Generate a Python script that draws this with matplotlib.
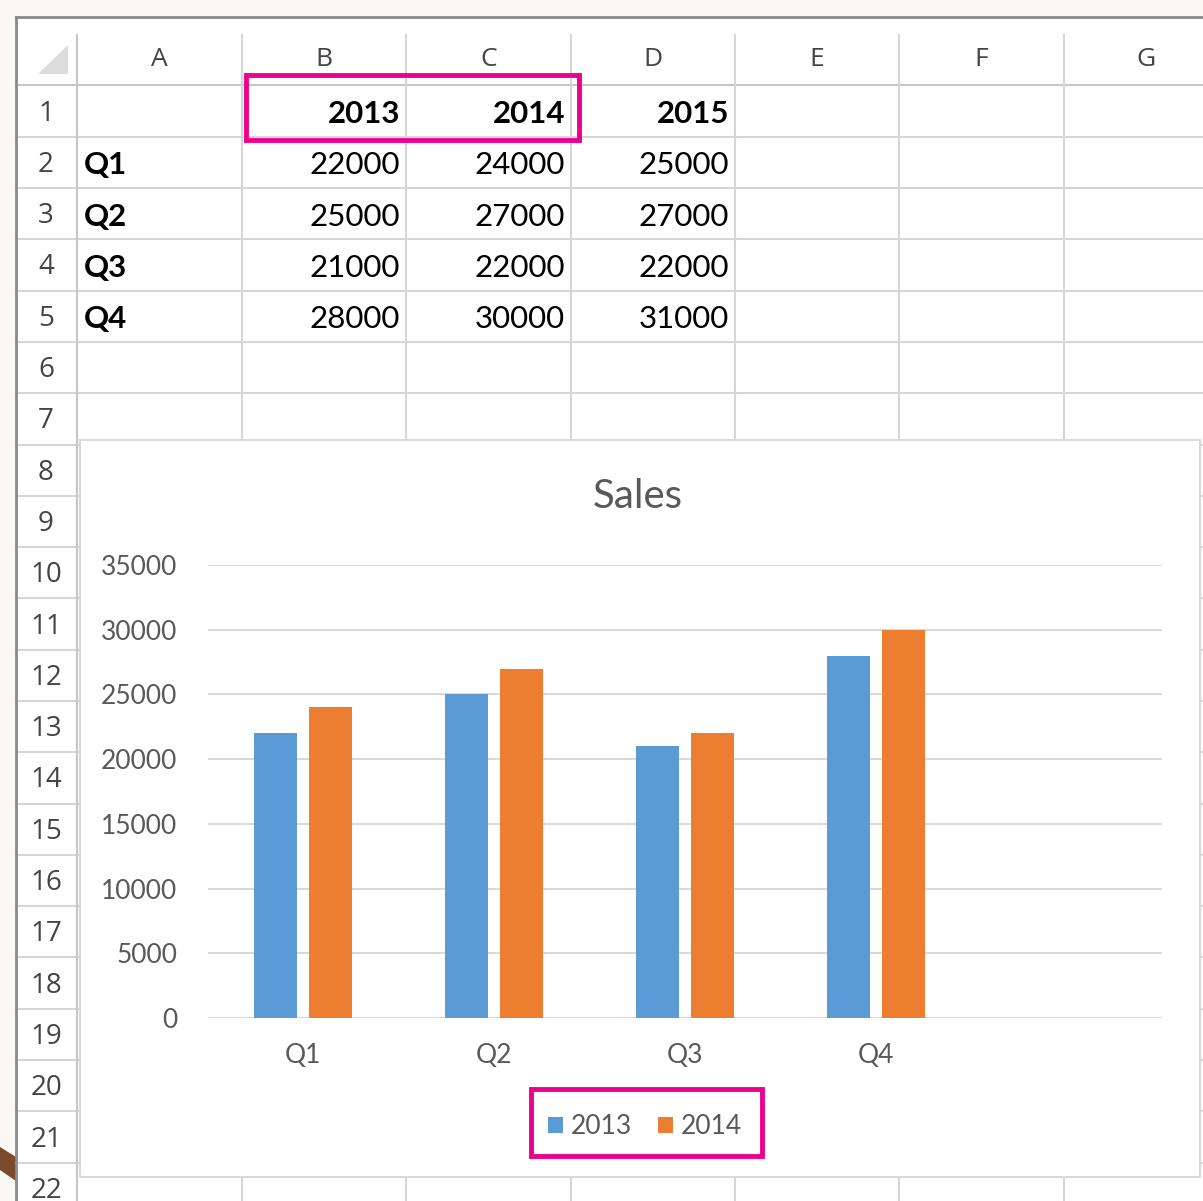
import matplotlib.pyplot as plt
from matplotlib.patches import Rectangle, Polygon

# Sheet data
quarters = ['Q1', 'Q2', 'Q3', 'Q4']
years = ['2013', '2014', '2015']
sales_2013 = [22000, 25000, 21000, 28000]
sales_2014 = [24000, 27000, 22000, 30000]
sales_2015 = [25000, 27000, 22000, 31000]
col_letters = ['A', 'B', 'C', 'D', 'E', 'F', 'G']
n_rows = 22

# Chart data (only 2013 and 2014 are plotted)
chart_series = {'2013': sales_2013, '2014': sales_2014}
chart_colors = {'2013': '#5B9BD5', '2014': '#ED7D31'}
y_ticks = [0, 5000, 10000, 15000, 20000, 25000, 30000, 35000]

W, H = 1203, 1201
fig = plt.figure(figsize=(W / 100, H / 100), dpi=100)
fig.patch.set_facecolor('#FBF9F3')

# background "spreadsheet" drawn in pixel space
bg = fig.add_axes([0, 0, 1, 1])
bg.set_xlim(0, W)
bg.set_ylim(H, 0)
bg.axis('off')

sheet_left, sheet_top = 16, 17
hdr_bottom = 85.4
row_h = 51.3
col_edges = [77, 242, 406, 571, 735, 899, 1064, 1228]
grid_c = '#D6D6D6'

bg.add_patch(Rectangle((sheet_left, sheet_top), W - sheet_left, H - sheet_top,
                       facecolor='white', edgecolor='none', zorder=0))
# outer border
bg.plot([sheet_left, W], [sheet_top, sheet_top], color='#8A8A8A', lw=2, zorder=5)
bg.plot([sheet_left, sheet_left], [sheet_top, H], color='#8A8A8A', lw=2, zorder=5)

# brown shape behind bottom-left
bg.add_patch(Polygon([(0, 1147), (16, 1157), (16, 1181), (0, 1170)],
                     facecolor='#7B4A2D', edgecolor='none', zorder=1))

# row lines
row_lines = [hdr_bottom + k * row_h for k in range(n_rows + 1)]
for k, y in enumerate(row_lines):
    c = '#C6C6C6' if k == 0 else grid_c
    bg.plot([sheet_left, W], [y, y], color=c, lw=1.5, zorder=1)
# column lines
for k, x in enumerate(col_edges):
    c = '#C6C6C6' if k == 0 else grid_c
    bg.plot([x, x], [35, H], color=c, lw=1.5, zorder=1)

# corner triangle
bg.add_patch(Polygon([(38, 74), (68, 74), (68, 45)], facecolor='#DCDCDC',
                     edgecolor='none', zorder=2))

hdr_font = 'Open Sans'
cell_font = 'Lato'
# column letters
for i, letter in enumerate(col_letters):
    xc = (col_edges[i] + col_edges[i + 1]) / 2
    bg.text(xc, 60, letter, ha='center', va='center', fontsize=19,
            family=hdr_font, color='#444444', zorder=3)
# row numbers
for r in range(1, n_rows + 1):
    yc = hdr_bottom + (r - 0.5) * row_h + 2.5
    bg.text(46, yc, str(r), ha='center', va='center', fontsize=20,
            family=hdr_font, color='#444444', zorder=3)

def row_center(r):
    return hdr_bottom + (r - 0.5) * row_h + 3

# header row with years
for j, yr in enumerate(years):
    bg.text(col_edges[j + 2] - 6, row_center(1), yr, ha='right', va='center',
            fontsize=22.5, family=cell_font, weight='bold', color='black', zorder=3)
# quarter rows
for i, q in enumerate(quarters):
    yc = row_center(i + 2)
    bg.text(84, yc, q, ha='left', va='center', fontsize=22.5, family=cell_font,
            weight='bold', color='black', zorder=3)
    for j, vals in enumerate([sales_2013, sales_2014, sales_2015]):
        bg.text(col_edges[j + 2] - 6, yc, str(vals[i]), ha='right', va='center',
                fontsize=22.5, family=cell_font, color='black', zorder=3)

# chart area
bg.add_patch(Rectangle((80, 440), 1120, 737, facecolor='white',
                       edgecolor='#D9D9D9', lw=1.5, zorder=6))
bg.text(638, 496, 'Sales', ha='center', va='center', fontsize=29,
        family=cell_font, color='#595959', zorder=7)

# highlight boxes
bg.add_patch(Rectangle((246, 75), 333, 65, facecolor='none', edgecolor='#EC008C',
                       lw=3.5, zorder=9))
bg.add_patch(Rectangle((531, 1089), 231, 67, facecolor='none', edgecolor='#EC008C',
                       lw=3.5, zorder=9))

# the clustered column chart
ax = fig.add_axes([208 / W, 1 - 1018 / H, (1162 - 208) / W, (1018 - 565) / H])
ax.set_zorder(8)
ax.patch.set_alpha(0)
bar_w = 0.226
offsets = [-0.144, 0.144]
x = list(range(len(quarters)))
handles = []
for off, (name, vals) in zip(offsets, chart_series.items()):
    b = ax.bar([xi + off for xi in x], vals, width=bar_w,
               color=chart_colors[name], label=name, zorder=3)
    handles.append(b)

ax.set_xlim(-0.5, 4.5)
ax.set_ylim(0, 35000)
ax.set_yticks(y_ticks)
ax.set_yticklabels([str(v) for v in y_ticks])
ax.set_xticks(x)
ax.set_xticklabels(quarters)
ax.grid(axis='y', color='#D9D9D9', lw=1.5, zorder=0)
for s in ax.spines.values():
    s.set_visible(False)
ax.tick_params(length=0, colors='#595959', labelsize=19)
ax.tick_params(axis='y', pad=22)
ax.tick_params(axis='x', pad=18)
for lbl in ax.get_xticklabels() + ax.get_yticklabels():
    lbl.set_family(cell_font)

leg = ax.legend(handles=handles, loc='center', ncol=2, frameon=False,
                bbox_to_anchor=(645 / W, 1 - 1127 / H), bbox_transform=fig.transFigure,
                prop={'family': cell_font, 'size': 19}, handlelength=0.55,
                handleheight=0.55, handletextpad=0.3, columnspacing=1.0)
for t in leg.get_texts():
    t.set_color('#595959')

fig.savefig('out.png', dpi=100, facecolor=fig.get_facecolor())
